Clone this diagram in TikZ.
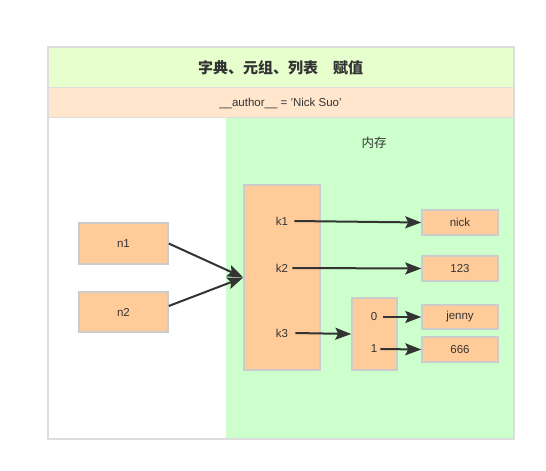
\documentclass[tikz,border=0pt]{standalone}
\usepackage{fontspec}
\setmainfont{Liberation Sans}
\newfontfamily\cjk{Noto Sans CJK SC}
\usetikzlibrary{arrows.meta}
\definecolor{titlegreen}{HTML}{E6FFCC}
\definecolor{authorpeach}{HTML}{FFE6CC}
\definecolor{memgreen}{HTML}{CCFFCC}
\definecolor{boxfill}{HTML}{FFCC99}
\definecolor{boxline}{HTML}{CCCCCC}
\definecolor{frameline}{HTML}{DDDDDD}
\definecolor{ink}{HTML}{333333}
\tikzset{
  box/.style={draw=boxline, line width=1.5pt, fill=boxfill, rectangle, inner sep=0pt, font=\fontsize{11.5}{13}\selectfont, text=ink},
  lbl/.style={inner sep=3pt, font=\fontsize{11.5}{13}\selectfont, text=ink},
  arr/.style={draw=ink, line width=2pt, -{Stealth[length=16pt,width=12pt,inset=3pt]}},
}
\begin{document}
\begin{tikzpicture}[x=1pt,y=-1pt]
\useasboundingbox (0,0) rectangle (546,471);
% bands
\fill[titlegreen] (48,47) rectangle (513,87);
\fill[authorpeach] (48,88) rectangle (513,117);
\fill[white] (48,118) rectangle (226,438);
\fill[memgreen] (226,118) rectangle (513,438);
\draw[frameline, line width=1.5pt] (48,87.5) -- (513,87.5);
\draw[frameline, line width=1.5pt] (48,117.5) -- (513,117.5);
\draw[frameline, line width=2pt] (47.5,46.5) rectangle (513.5,438.5);
\node[font=\cjk\bfseries\fontsize{15}{17}\selectfont, text=ink] (title) at (280.5,68) {字典、元组、列表\quad 赋值};
\node[font=\fontsize{11.5}{13}\selectfont, text=ink] (author) at (280.5,103) {\_\_author\_\_ = 'Nick Suo'};
\node[font=\cjk\fontsize{12.5}{14}\selectfont, text=ink] (mem) at (374,143) {内存};
% boxes
\node[box, minimum width=89pt, minimum height=41pt] (n1) at (123.5,243.5) {n1};
\node[box, minimum width=89pt, minimum height=40pt] (n2) at (123.5,312) {n2};
\node[box, minimum width=76pt, minimum height=185pt] (K) at (282,277.5) {};
\node[lbl] (k1) at (282,221) {k1};
\node[lbl] (k2) at (282,268) {k2};
\node[lbl] (k3) at (282,333) {k3};
\node[box, minimum width=45pt, minimum height=72pt] (L) at (374.5,334) {};
\node[lbl] (l0) at (374,317) {0};
\node[lbl] (l1) at (374,349) {1};
\node[box, minimum width=76pt, minimum height=25pt] (nick) at (460,222.5) {nick};
\node[box, minimum width=76pt, minimum height=25pt] (v123) at (460,268.5) {123};
\node[box, minimum width=76pt, minimum height=24pt] (jenny) at (460,317) {jenny};
\node[box, minimum width=76pt, minimum height=25pt] (v666) at (460,349.5) {666};
% arrows
\draw[arr] (n1.east) -- (K.west);
\draw[arr] ([yshift=6pt]n2.east) -- (K.west);
\draw[arr] ([xshift=3pt]k1.east) -- (nick.west);
\draw[arr] ([xshift=1pt]k2.east) -- (v123.west);
\draw[arr] ([xshift=4pt]k3.east) -- (L.west);
\draw[arr] ([xshift=3pt]l0.east) -- (jenny.west);
\draw[arr] ([xshift=0pt]l1.east) -- (v666.west);
\end{tikzpicture}
\end{document}
